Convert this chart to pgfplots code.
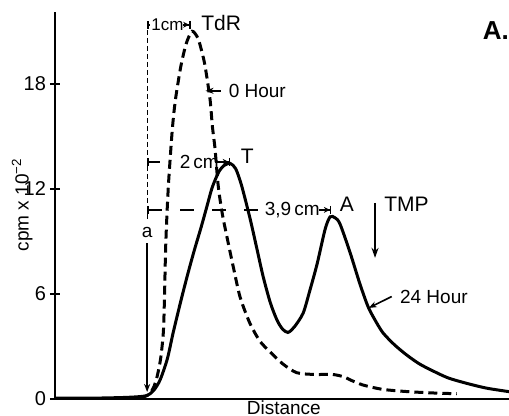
\documentclass[border=0pt]{standalone}
\usepackage{fontspec}
\setmainfont{Liberation Sans}
\usepackage{pgfplots}
\pgfplotsset{compat=1.18}
\usetikzlibrary{arrows.meta}

% 0 hour (dashed) and 24 hour (solid) profiles, x in cm from origin a
\pgfplotstableread{
x y
-0.16 0.05
0 0.2
0.07 0.34
0.15 0.7
0.22 1.26
0.3 2.3
0.36 3.8
0.385 5.7
0.41 8.5
0.44 10.5
0.48 12.5
0.56 15.4
0.63 17.1
0.75 19.0
0.87 20.3
1.0 21.0
1.13 20.6
1.22 19.8
1.29 19.0
1.4 17.1
1.45 15.6
1.51 14.3
1.58 12.2
1.67 10.6
1.78 9.2
1.92 7.5
2.07 5.8
2.29 4.3
2.51 3.3
2.73 2.7
3.02 2.0
3.33 1.5
3.73 1.4
4.13 1.4
4.4 1.25
4.51 1.1
4.8 0.8
5.24 0.55
5.8 0.42
6.4 0.34
6.89 0.3
}\zerohour

\pgfplotstableread{
x y
-2.05 0.05
-1.2 0.05
-0.6 0.08
-0.25 0.12
0 0.2
0.15 0.5
0.29 1.1
0.45 2.3
0.58 3.8
0.75 5.6
0.9 7.1
1.05 8.5
1.2 9.8
1.33 11.0
1.45 12.1
1.6 13.0
1.72 13.35
1.85 13.45
1.97 13.15
2.1 12.2
2.29 10.3
2.44 8.6
2.58 7.0
2.74 5.5
2.89 4.5
3.01 4.0
3.13 3.8
3.27 4.1
3.47 4.9
3.62 6.2
3.78 7.7
3.96 9.7
4.07 10.4
4.18 10.35
4.29 10.0
4.51 8.4
4.73 6.6
4.91 5.3
5.05 4.6
5.24 3.8
5.5 3.1
5.78 2.5
6.06 2.0
6.36 1.6
6.7 1.2
7.1 0.9
7.55 0.62
8.05 0.42
}\dayhour

\begin{document}
\begin{tikzpicture}[font=\fontsize{9.5}{11}\selectfont]
\useasboundingbox (-27.5pt,-8.5pt) rectangle (227pt,199.5pt);
\begin{axis}[
  scale only axis,
  width=227pt, height=193.5pt,
  anchor=south west, at={(0,0)},
  xmin=-2.05, xmax=8.05, ymin=0, ymax=22.1,
  axis lines*=left,
  axis line style={line width=1pt},
  xtick=\empty,
  ytick={0,6,12,18},
  tick align=center,
  major tick length=5pt,
  tick style={black, line width=0.9pt},
  yticklabel style={font=\fontsize{10}{11}\selectfont, xshift=1.5pt},
  /pgf/number format/assume math mode=true,
  clip=false,
]
\addplot[black, line width=1.5pt, dash pattern=on 4.5pt off 2.5pt, smooth, tension=0.45] table {\zerohour};
\addplot[black, line width=1.5pt, smooth, tension=0.45] table {\dayhour};

% origin marker a
\draw[line width=0.6pt, dash pattern=on 2.5pt off 1.5pt] (axis cs:0,21.54) -- (axis cs:0,10.2);
\node at (axis cs:0,9.5) {a};
\draw[line width=0.8pt, -{Stealth[length=4pt,width=3pt]}] (axis cs:0,8.9) -- (axis cs:0,0.4);

% 1 cm to TdR
\draw[line width=0.8pt, {Bar[width=4pt]}-] (axis cs:0,21.37) -- (axis cs:0.07,21.37);
\node[inner sep=1pt, font=\fontsize{8.5}{10}\selectfont] at (axis cs:0.45,21.37) {1cm};
\draw[line width=0.8pt, -{Stealth[length=3pt,width=3pt]Bar[width=4pt]}] (axis cs:0.8,21.37) -- (axis cs:0.97,21.37);
\node[anchor=west, font=\fontsize{10.5}{12}\selectfont] at (axis cs:1.05,21.5) {TdR};

% 2 cm to T
\draw[line width=0.8pt, {Bar[width=4pt]}-] (axis cs:0,13.54) -- (axis cs:0.29,13.54);
\node at (axis cs:1.16,13.54) {2\,cm};
\draw[line width=0.8pt, -{Stealth[length=3pt,width=3pt]Bar[width=4pt]}] (axis cs:1.52,13.54) -- (axis cs:1.85,13.54);
\node[anchor=west, font=\fontsize{10.5}{12}\selectfont] at (axis cs:1.93,13.85) {T};

% 3.9 cm to A
\draw[line width=0.8pt, {Bar[width=4pt]}-, dash pattern=on 7pt off 9pt] (axis cs:0,10.8) -- (axis cs:2.62,10.8);
\node at (axis cs:3.23,10.8) {3,9\,cm};
\draw[line width=0.8pt, -{Stealth[length=3pt,width=3pt]Bar[width=4pt]}] (axis cs:3.82,10.8) -- (axis cs:4.1,10.8);
\node[anchor=west, font=\fontsize{10.5}{12}\selectfont] at (axis cs:4.13,11.1) {A};

% curve labels
\draw[line width=0.8pt, -{Stealth[length=4pt,width=3pt]}] (axis cs:1.64,17.6) -- (axis cs:1.3,17.6);
\node[anchor=west] at (axis cs:1.66,17.6) {0 Hour};
\draw[line width=0.8pt, -{Stealth[length=4pt,width=3pt]}] (axis cs:5.44,5.85) -- (axis cs:4.93,5.2);
\node[anchor=west] at (axis cs:5.47,5.85) {24 Hour};
\draw[line width=0.8pt, -{Stealth[length=5pt,width=3.5pt]}] (axis cs:5.07,11.2) -- (axis cs:5.07,8.06);
\node[anchor=west, font=\fontsize{10.5}{12}\selectfont] at (axis cs:5.12,11.1) {TMP};

\node[font=\fontsize{13}{14}\selectfont\bfseries] at (axis cs:7.76,21.03) {A.};
\node[inner sep=1pt] at (axis cs:3.04,-0.52) {Distance};
\node[rotate=90] at (axis cs:-2.78,11.1) {cpm x 10\textsuperscript{−2}};
\end{axis}
\end{tikzpicture}
\end{document}
